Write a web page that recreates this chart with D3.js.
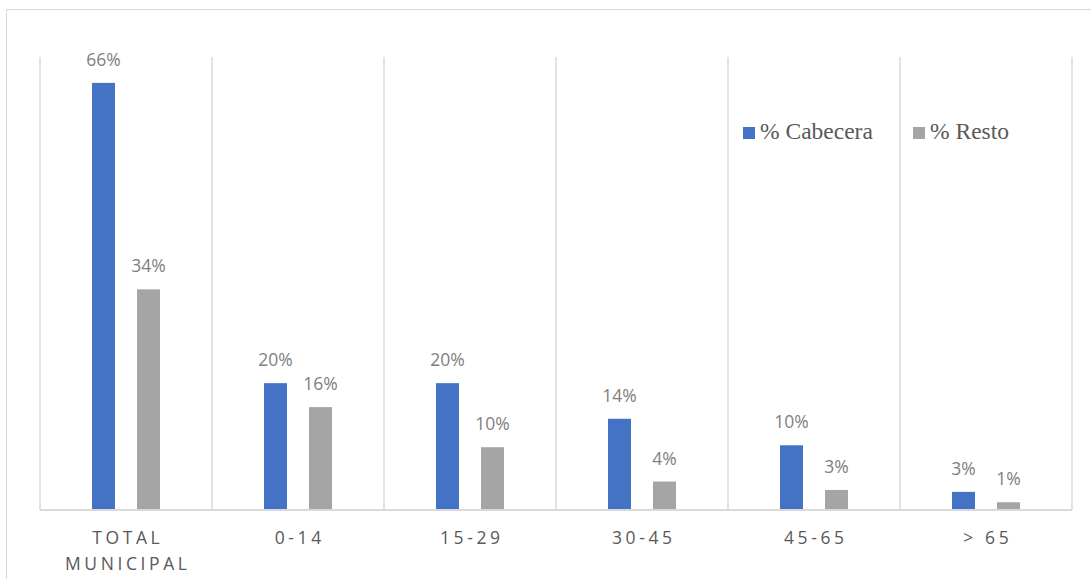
<!DOCTYPE html>
<html>
<head>
<meta charset="utf-8">
<script src="https://cdn.jsdelivr.net/npm/d3@7"></script>
<style>
  html, body { margin: 0; padding: 0; background: #fff; }
  svg { display: block; }
</style>
</head>
<body>
<svg id="chart" width="1091" height="579"></svg>
<script>
const categories = [["TOTAL", "MUNICIPAL"], ["0-14"], ["15-29"], ["30-45"], ["45-65"], ["> 65"]];
const seriesNames = ["% Cabecera", "% Resto"];
const cabecera = [66, 19.6, 19.6, 14.1, 10, 2.8];
const resto = [34.1, 15.9, 9.7, 4.4, 3.1, 1.2];
const seriesColors = ["#4472C4", "#A5A5A5"];

const svg = d3.select("#chart");
const plot = { left: 40, right: 1072, top: 57, bottom: 510 };

// outer frame
svg.append("rect")
  .attr("x", 6.5).attr("y", 9.5)
  .attr("width", 1200).attr("height", 700)
  .attr("fill", "none").attr("stroke", "#d9d9d9").attr("stroke-width", 1);

const catKeys = categories.map((c, i) => i);
const x0 = d3.scaleBand().domain(catKeys).range([plot.left, plot.right]).paddingInner(0).paddingOuter(0);
const x1 = d3.scaleBand().domain([0, 1]).range([0, x0.bandwidth()]).paddingInner(22 / 45).paddingOuter(52 / 45);
const y = d3.scaleLinear().domain([0, 70]).range([plot.bottom, plot.top]);

// vertical gridlines at category boundaries
const bounds = catKeys.map(i => x0(i)).concat([plot.right]);
svg.append("g").selectAll("line").data(bounds).join("line")
  .attr("x1", d => d).attr("x2", d => d)
  .attr("y1", y(70)).attr("y2", y(0))
  .attr("stroke", "#d9d9d9").attr("stroke-width", 1.5);

// bars
const data = catKeys.map(i => [cabecera[i], resto[i]]);
const groups = svg.append("g").selectAll("g").data(data).join("g")
  .attr("transform", (d, i) => `translate(${x0(i)},0)`);

groups.selectAll("rect").data(d => d.map((v, s) => ({ v, s }))).join("rect")
  .attr("x", d => x1(d.s))
  .attr("width", x1.bandwidth())
  .attr("y", d => y(d.v))
  .attr("height", d => y(0) - y(d.v))
  .attr("fill", d => seriesColors[d.s]);

groups.selectAll("text").data(d => d.map((v, s) => ({ v, s }))).join("text")
  .attr("x", d => x1(d.s) + x1.bandwidth() / 2)
  .attr("y", d => y(d.v) - 17)
  .attr("text-anchor", "middle")
  .attr("font-family", "'Open Sans', sans-serif")
  .attr("font-size", 17.5)
  .attr("fill", "#808080")
  .text(d => Math.round(d.v) + "%");

// baseline (category axis)
svg.append("line")
  .attr("x1", plot.left).attr("x2", plot.right)
  .attr("y1", y(0)).attr("y2", y(0))
  .attr("stroke", "#d9d9d9").attr("stroke-width", 2);

// category labels
const ls = 3.6;
const catG = svg.append("g");
categories.forEach((lines, i) => {
  lines.forEach((ln, j) => {
    catG.append("text")
      .attr("x", x0(i) + x0.bandwidth() / 2 + ls / 2)
      .attr("y", 544 + j * 26)
      .attr("text-anchor", "middle")
      .attr("font-family", "'Open Sans', sans-serif")
      .attr("font-size", 17.5)
      .attr("letter-spacing", ls)
      .attr("fill", "#595959")
      .text(ln);
  });
});

// legend
const legendPos = [743, 913];
const leg = svg.append("g");
seriesNames.forEach((name, s) => {
  leg.append("rect")
    .attr("x", legendPos[s]).attr("y", 127)
    .attr("width", 12).attr("height", 12)
    .attr("fill", seriesColors[s]);
  leg.append("text")
    .attr("x", legendPos[s] + 17).attr("y", 139)
    .attr("font-family", "'Liberation Serif', 'Times New Roman', serif")
    .attr("font-size", 23.5)
    .attr("fill", "#595959")
    .text(name);
});
</script>
</body>
</html>
